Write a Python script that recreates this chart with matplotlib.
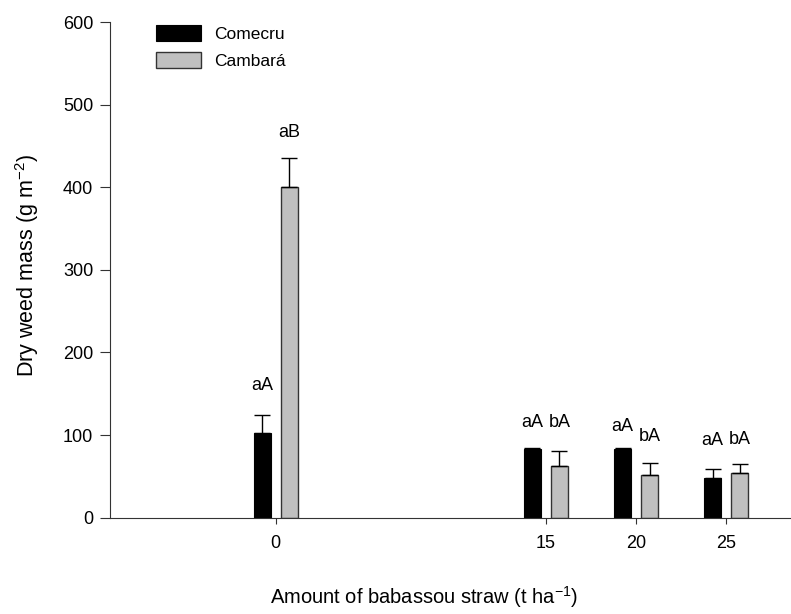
#Masa seca de malezas segun cantidad de paja de babasu
import numpy as np
import matplotlib.pyplot as plt

plt.rcParams['font.family'] = ['Liberation Sans', 'DejaVu Sans']
plt.rcParams['mathtext.default'] = 'regular'

#Datos
paja = [0, 15, 20, 25]
comecru = [103, 83, 83, 47.5]
comecru_err = [21, 1, 1, 11]
cambara = [400, 62, 52, 54]
cambara_err = [35, 19, 14, 10.5]
letras_comecru = ['aA', 'aA', 'aA', 'aA']
letras_cambara = ['aB', 'bA', 'bA', 'bA']
alto_comecru = [160, 115, 110, 93]
alto_cambara = [466, 115, 98, 95]

x = np.array(paja, dtype=float)
ancho = 0.95
desp = 0.75

fig = plt.figure(figsize=(7.91, 6.14), dpi=100)
ax = fig.add_axes([0.139, 0.157, 0.861, 0.807])

ax.bar(x - desp, comecru, ancho, color='black', edgecolor='black', linewidth=0.8, label='Comecru')
ax.bar(x + desp, cambara, ancho, color='#c0c0c0', edgecolor='#333333', linewidth=1.0, label='Cambará')
ax.errorbar(x - desp, comecru, yerr=[np.zeros(4), comecru_err], fmt='none', ecolor='black', elinewidth=1, capsize=5.8, capthick=1)
ax.errorbar(x + desp, cambara, yerr=[np.zeros(4), cambara_err], fmt='none', ecolor='black', elinewidth=1, capsize=5.8, capthick=1)

for i in range(len(x)):
    ax.text(x[i] - desp, alto_comecru[i], letras_comecru[i], ha='center', va='center', fontsize=13)
    ax.text(x[i] + desp, alto_cambara[i], letras_cambara[i], ha='center', va='center', fontsize=13)

ax.set_xlim(-9.2, 28.6)
ax.set_ylim(0, 600)
ax.set_xticks(paja)
ax.set_yticks(range(0, 601, 100))
ax.spines['top'].set_visible(False)
ax.spines['right'].set_visible(False)
ax.spines['left'].set_color('#333333')
ax.spines['bottom'].set_color('#333333')
ax.tick_params(direction='out', labelsize=13, colors='#333333', labelcolor='black')
ax.tick_params(axis='y', length=7, pad=5)
ax.tick_params(axis='x', length=4.5, pad=8)

ax.set_xlabel('Amount of babassou straw (t ha$^{-1}$)', fontsize=14.5, va='center')
ax.xaxis.set_label_coords(0.461, -0.16)
ax.set_ylabel('Dry weed mass (g m$^{-2}$)', fontsize=15.5, va='center')
ax.yaxis.set_label_coords(-0.122, 0.508)

ax.legend(loc='upper left', bbox_to_anchor=(0.045, 1.025), frameon=False, fontsize=12.5,
          handlelength=2.6, handleheight=1.0, handletextpad=0.75, labelspacing=0.6)

fig.savefig('out.png', dpi=100)
